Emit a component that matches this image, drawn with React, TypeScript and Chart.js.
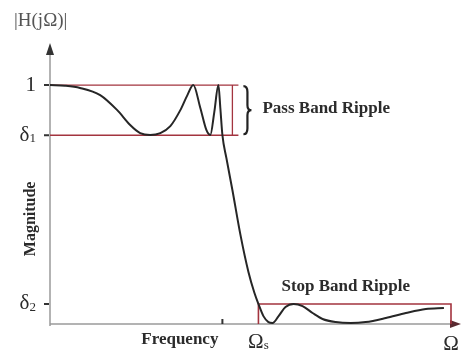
import React, { useEffect, useRef } from "react";
import { Chart, registerables } from "chart.js";

Chart.register(...registerables);

// Normalised frequency (passband edge = 1) and magnitude of the response curve
const FREQ = [
  0, 0.087, 0.174, 0.291, 0.39, 0.465, 0.523, 0.581, 0.64, 0.698, 0.756, 0.797, 0.831,
  0.872, 0.907, 0.93, 0.953, 0.977, 0.988, 1.0, 1.023, 1.058, 1.105, 1.151, 1.186,
  1.209, 1.238, 1.267, 1.291, 1.326, 1.366, 1.413, 1.465, 1.523, 1.581, 1.657, 1.744,
  1.831, 1.948, 2.064, 2.18, 2.285,
];
const MAGNITUDE = [
  1.0, 0.997, 0.988, 0.958, 0.895, 0.833, 0.799, 0.791, 0.799, 0.828, 0.895, 0.958, 1.0,
  0.904, 0.812, 0.791, 0.887, 1.0, 0.904, 0.791, 0.695, 0.561, 0.372, 0.218, 0.13,
  0.084, 0.033, 0.008, 0.004, 0.033, 0.071, 0.084, 0.075, 0.046, 0.021, 0.008, 0.004,
  0.008, 0.025, 0.046, 0.063, 0.067,
];

// Reference levels and band edges
const LEVEL_ONE = 1;
const DELTA1 = 0.79;
const DELTA2 = 0.084;
const OMEGA_P = 1.0;
const OMEGA_S = 1.209;
const OMEGA_END = 2.326;
const PASS_MARK = 1.058;
const PASS_BOX_END = 1.093;
const X_MAX = 2.384;
const Y_MAX = 1.176;

const Y_TICKS = [
  { value: LEVEL_ONE, main: "1", sub: "" },
  { value: DELTA1, main: "δ", sub: "1" },
  { value: DELTA2, main: "δ", sub: "2" },
];

const SERIF = "'Liberation Serif', 'Times New Roman', serif";
const RED = "#a3343f";
const AXIS = "#9a9a9a";

function drawSub(ctx: CanvasRenderingContext2D, main: string, sub: string, x: number, y: number, size: number, align: "left" | "center" | "right") {
  ctx.font = `${size}px ${SERIF}`;
  const wm = ctx.measureText(main).width;
  ctx.font = `${Math.round(size * 0.62)}px ${SERIF}`;
  const ws = sub ? ctx.measureText(sub).width : 0;
  const total = wm + ws;
  let x0 = x;
  if (align === "center") x0 = x - total / 2;
  if (align === "right") x0 = x - total;
  ctx.textAlign = "left";
  ctx.textBaseline = "middle";
  ctx.font = `${size}px ${SERIF}`;
  ctx.fillText(main, x0, y);
  if (sub) {
    ctx.font = `${Math.round(size * 0.62)}px ${SERIF}`;
    ctx.fillText(sub, x0 + wm, y + size * 0.18);
  }
}

const diagramPlugin = {
  id: "filterDiagram",
  beforeDatasetsDraw(chart: any) {
    const { ctx, scales } = chart;
    const xs = scales.x;
    const ys = scales.y;
    const x0 = xs.getPixelForValue(0);
    const y0 = ys.getPixelForValue(0);
    const yTop = ys.getPixelForValue(Y_MAX);
    const xRight = xs.getPixelForValue(X_MAX);
    ctx.save();
    // axes
    ctx.strokeStyle = AXIS;
    ctx.lineWidth = 1.5;
    ctx.beginPath();
    ctx.moveTo(x0, y0 + 2);
    ctx.lineTo(x0, yTop + 8);
    ctx.moveTo(x0, y0);
    ctx.lineTo(xRight - 6, y0);
    ctx.stroke();
    // arrow heads
    ctx.fillStyle = "#333";
    ctx.beginPath();
    ctx.moveTo(x0, yTop);
    ctx.lineTo(x0 - 4, yTop + 12);
    ctx.lineTo(x0 + 4, yTop + 12);
    ctx.closePath();
    ctx.fill();
    ctx.fillStyle = "#5a2a30";
    ctx.beginPath();
    ctx.moveTo(xRight, y0);
    ctx.lineTo(xRight - 11, y0 - 4);
    ctx.lineTo(xRight - 11, y0 + 4);
    ctx.closePath();
    ctx.fill();
    // tick marks
    ctx.strokeStyle = "#333";
    ctx.lineWidth = 2;
    ctx.beginPath();
    for (const t of Y_TICKS) {
      const py = ys.getPixelForValue(t.value);
      ctx.moveTo(x0 - 6, py);
      ctx.lineTo(x0 - 1, py);
    }
    const px = xs.getPixelForValue(OMEGA_P);
    ctx.moveTo(px, y0 - 5);
    ctx.lineTo(px, y0);
    ctx.stroke();
    ctx.restore();
  },
  afterDatasetsDraw(chart: any) {
    const { ctx, scales } = chart;
    const xs = scales.x;
    const ys = scales.y;
    const x0 = xs.getPixelForValue(0);
    const y0 = ys.getPixelForValue(0);
    ctx.save();
    ctx.fillStyle = "#2b2b2b";
    // y tick labels
    for (const t of Y_TICKS) {
      drawSub(ctx, t.main, t.sub, x0 - 14, ys.getPixelForValue(t.value), 21, "right");
    }
    // x labels
    drawSub(ctx, "Ω", "s", xs.getPixelForValue(OMEGA_S), y0 + 18, 21, "center");
    drawSub(ctx, "Ω", "", xs.getPixelForValue(OMEGA_END), y0 + 20, 21, "center");

    ctx.font = `bold 17px ${SERIF}`;
    ctx.textBaseline = "middle";
    ctx.textAlign = "right";
    ctx.fillText("Frequency", xs.getPixelForValue(OMEGA_P) - 4, y0 + 16);

    // y title
    ctx.save();
    ctx.font = `bold 16px ${SERIF}`;
    ctx.translate(x0 - 19, ys.getPixelForValue(0.44));
    ctx.rotate(-Math.PI / 2);
    ctx.textAlign = "center";
    ctx.fillText("Magnitude", 0, 0);
    ctx.restore();

    // top label
    ctx.fillStyle = "#555";
    ctx.font = `19px ${SERIF}`;
    ctx.textAlign = "left";
    ctx.fillText("|H(jΩ)|", 14, 21);

    // brace for passband ripple
    const yt = ys.getPixelForValue(LEVEL_ONE) + 1;
    const yb = ys.getPixelForValue(DELTA1) - 1;
    const ym = (yt + yb) / 2;
    const xl = xs.getPixelForValue(PASS_BOX_END) + 5;
    const xm = xl + 4;
    const xr = xl + 8;
    ctx.strokeStyle = "#222";
    ctx.lineWidth = 2.2;
    ctx.beginPath();
    ctx.moveTo(xl, yt);
    ctx.quadraticCurveTo(xm, yt, xm, yt + 6);
    ctx.lineTo(xm, ym - 5);
    ctx.quadraticCurveTo(xm, ym, xr, ym);
    ctx.quadraticCurveTo(xm, ym, xm, ym + 5);
    ctx.lineTo(xm, yb - 6);
    ctx.quadraticCurveTo(xm, yb, xl, yb);
    ctx.stroke();

    ctx.fillStyle = "#2b2b2b";
    ctx.font = `bold 17px ${SERIF}`;
    ctx.textAlign = "left";
    ctx.fillText("Pass Band Ripple", xr + 11, ym - 2);
    ctx.fillText("Stop Band Ripple", xs.getPixelForValue(OMEGA_S) + 23, ys.getPixelForValue(DELTA2) - 17);
    ctx.restore();
  },
};

export default function App() {
  const canvasRef = useRef<HTMLCanvasElement | null>(null);

  useEffect(() => {
    document.body.style.margin = "0";
    const canvas = canvasRef.current;
    if (!canvas) return;
    const curve = FREQ.map((f, i) => ({ x: f, y: MAGNITUDE[i] }));
    const passBox = [
      { x: 0, y: LEVEL_ONE },
      { x: PASS_BOX_END, y: LEVEL_ONE },
      { x: NaN, y: NaN },
      { x: 0, y: DELTA1 },
      { x: PASS_BOX_END, y: DELTA1 },
      { x: NaN, y: NaN },
      { x: PASS_MARK, y: LEVEL_ONE },
      { x: PASS_MARK, y: DELTA1 },
    ];
    const stopBox = [
      { x: OMEGA_S, y: 0 },
      { x: OMEGA_S, y: DELTA2 },
      { x: OMEGA_END, y: DELTA2 },
      { x: OMEGA_END, y: 0 },
    ];
    const chart = new Chart(canvas, {
      type: "line",
      data: {
        datasets: [
          {
            data: curve,
            borderColor: "#262626",
            borderWidth: 2,
            pointRadius: 0,
            cubicInterpolationMode: "monotone",
            fill: false,
            order: 0,
            clip: false,
          } as any,
          {
            data: passBox,
            borderColor: RED,
            borderWidth: 1.3,
            pointRadius: 0,
            tension: 0,
            spanGaps: false,
            order: 1,
            clip: false,
          } as any,
          {
            data: stopBox,
            borderColor: RED,
            borderWidth: 1.6,
            pointRadius: 0,
            tension: 0,
            order: 1,
            clip: false,
          } as any,
        ],
      },
      options: {
        responsive: false,
        animation: false,
        devicePixelRatio: 1,
        layout: { padding: { left: 50, right: 1, top: 43, bottom: 29 } },
        plugins: { legend: { display: false }, tooltip: { enabled: false } },
        scales: {
          x: { type: "linear", min: 0, max: X_MAX, display: false },
          y: { type: "linear", min: 0, max: Y_MAX, display: false },
        },
      },
      plugins: [diagramPlugin],
    });
    return () => chart.destroy();
  }, []);

  return (
    <div style={{ width: 462, height: 353, background: "#fff" }}>
      <canvas ref={canvasRef} width={462} height={353} />
    </div>
  );
}
